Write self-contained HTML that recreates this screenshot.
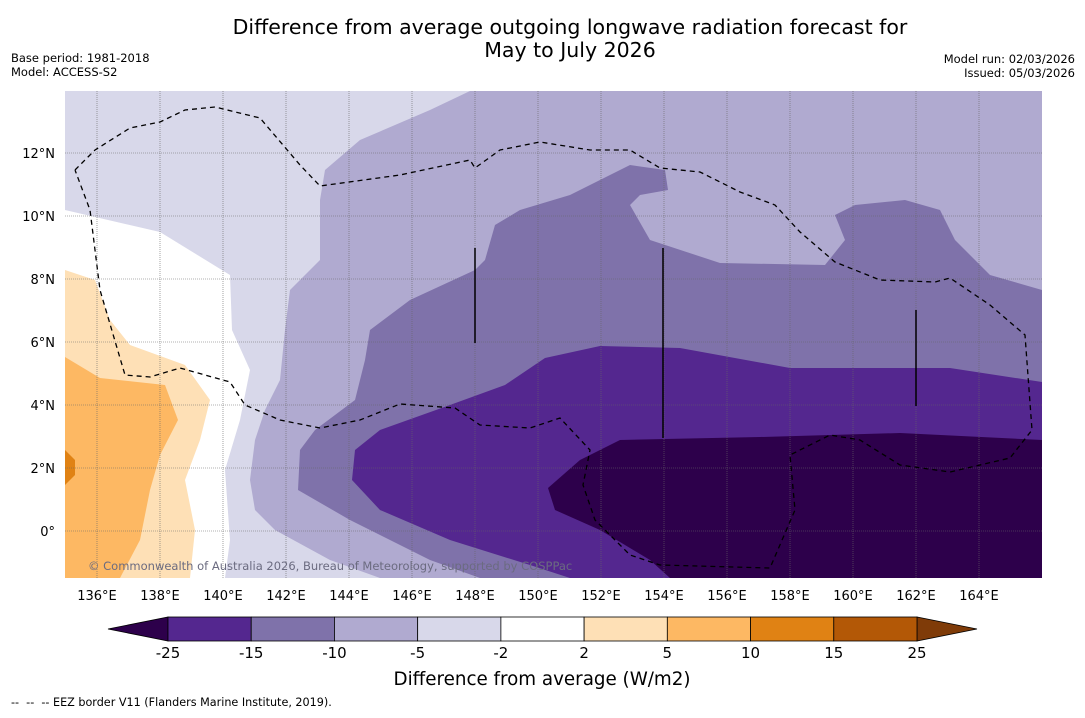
<!DOCTYPE html>
<html><head><meta charset="utf-8"><style>
body{margin:0;background:#fff;font-family:"Liberation Sans","DejaVu Sans",sans-serif;}
svg text{font-family:"DejaVu Sans","Liberation Sans",sans-serif;white-space:pre;}
</style></head><body>
<svg id="c" width="1085" height="713" xmlns="http://www.w3.org/2000/svg">
<text x="570" y="34" font-size="20.5" text-anchor="middle">Difference from average outgoing longwave radiation forecast for</text>
<text x="570" y="57" font-size="20.5" text-anchor="middle">May to July 2026</text>
<text x="11" y="62" font-size="11.5">Base period: 1981-2018</text>
<text x="11" y="76" font-size="11.5">Model: ACCESS-S2</text>
<text x="1075" y="63" font-size="11.5" text-anchor="end">Model run: 02/03/2026</text>
<text x="1075" y="77" font-size="11.5" text-anchor="end">Issued: 05/03/2026</text>
<defs><clipPath id="mc"><rect x="65" y="91" width="977" height="487"/></clipPath></defs>
<g id="map" clip-path="url(#mc)"></g>
<g id="axes"></g>
<g id="cbar"></g>
<text x="542" y="685" font-size="18.3" text-anchor="middle">Difference from average (W/m2)</text>
<text x="11" y="706" font-size="11.2" xml:space="preserve">--  --  -- EEZ border V11 (Flanders Marine Institute, 2019).</text>
</svg>
<script>
const levels=['-25','-15','-10','-5','-2','2','5','10','15','25'];
const binColors=['#54278f','#7f72aa','#b0aad0','#d8d8ea','#ffffff','#fee0b6','#fdb863','#e08214','#b35806'];
const lowColor='#2d004b', highColor='#7f3b08';
const lonTicks=[136,138,140,142,144,146,148,150,152,154,156,158,160,162,164];
const latTicks=[0,2,4,6,8,10,12];
const NS='http://www.w3.org/2000/svg';
const X=lon=>65.5+(lon-135)*31.5, Y=lat=>531-lat*31.5;
function mk(t,a,p){const e=document.createElementNS(NS,t);for(const k in a)e.setAttribute(k,a[k]);p.appendChild(e);return e;}
const map=document.getElementById('map'), axes=document.getElementById('axes'), cb=document.getElementById('cbar');
let r=mk('rect',{x:65,y:91,width:977,height:487,fill:'#d8d8ea'},map);


const shapes=[
['#ffffff','65,210 160,232 230,275 232,330 250,370 240,420 225,470 230,540 225,578 65,578','white-region'],
['#fee0b6','65,270 95,280 110,320 130,345 185,365 210,400 200,440 185,480 195,530 190,578 65,578','light-orange-region'],
['#fdb863','65,357 100,378 165,385 178,420 160,455 150,490 140,540 120,578 65,578','orange-region'],
['#e08214','65,450 75,460 75,475 65,485','dark-orange-region'],
['#b0aad0','470,91 430,110 360,140 325,170 320,200 320,260 290,290 285,330 280,380 265,410 255,440 250,480 255,510 275,530 330,560 380,578 1042,578 1042,91','purple-5-10-region'],
['#7f72aa','1042,290 990,275 955,240 940,210 905,200 855,205 835,215 845,240 825,265 720,263 650,240 630,205 640,195 668,190 665,170 630,165 600,180 570,195 520,210 495,225 485,260 475,270 410,300 370,330 365,360 355,400 315,430 300,450 298,490 350,520 430,560 480,578 1042,578','purple-10-15-region'],
['#54278f','1042,382 950,368 790,368 680,348 600,346 545,358 505,385 450,405 380,430 355,450 352,480 380,510 450,540 530,565 570,578 1042,578','purple-15-25-region'],
['#2d004b','1042,440 900,433 760,437 620,440 580,460 548,488 555,510 600,530 650,560 670,578 1042,578','purple-below-25-region']];
shapes.forEach(s=>{const p=mk('polygon',{points:s[1],fill:s[0]},map);

});
lonTicks.forEach(l=>{const x=X(l);const g=mk('line',{x1:x,x2:x,y1:91,y2:578,stroke:'#666','stroke-width':0.6,'stroke-dasharray':'1,1'},map);


const t=mk('text',{x:x,y:600,'font-size':13,'text-anchor':'middle'},axes);t.textContent=l+'°E';

});
latTicks.forEach(l=>{const y=Y(l);const g=mk('line',{x1:65,x2:1042,y1:y,y2:y,stroke:'#666','stroke-width':0.6,'stroke-dasharray':'1,1'},map);


const t=mk('text',{x:55,y:y+5,'font-size':13,'text-anchor':'end'},axes);t.textContent=l===0?'0°':l+'°N';

});
const eez=['M75,170 L95,150 L130,128 L160,122 L185,110 L215,107 L260,118 L300,165 L320,186 L400,175 L470,160 L475,168 L500,150 L540,142 L590,150 L630,150 L660,168 L700,172 L740,192 L775,205 L800,232 L835,262 L880,280 L935,282 L950,278 L990,305 L1025,335 L1032,430 L1010,458 L950,472 L900,465 L860,440 L830,435 L790,455 L795,510 L770,568 L660,565 L630,555 L595,520 L583,485 L590,450 L560,418 L530,428 L480,425 L455,408 L400,404 L360,420 L320,428 L280,420 L245,405 L230,382 L180,368 L150,377 L125,375 L100,290 L90,210 L75,170'];
eez.forEach(d=>{const p=mk('path',{d:d,fill:'none',stroke:'#000','stroke-width':1.3,'stroke-dasharray':'5,4'},map);

});
[[475,248,343],[663,248,438],[916,310,406]].forEach(v=>{const l=mk('line',{x1:v[0],x2:v[0],y1:v[1],y2:v[2],stroke:'#000','stroke-width':1.5},map);

});
const cp=mk('text',{x:88,y:570,'font-size':11.5,fill:'#6b6b80'},map);cp.textContent='© Commonwealth of Australia 2026, Bureau of Meteorology, supported by COSPPac';


const cx0=168,cx1=917,cy=617,ch=24,bw=(cx1-cx0)/binColors.length;
let tl=mk('polygon',{points:`108,${cy+ch/2} ${cx0},${cy} ${cx0},${cy+ch}`,fill:lowColor,stroke:'#000','stroke-width':0.8},cb);


let tr=mk('polygon',{points:`977,${cy+ch/2} ${cx1},${cy} ${cx1},${cy+ch}`,fill:highColor,stroke:'#000','stroke-width':0.8},cb);


binColors.forEach((c,i)=>{const b=mk('rect',{x:cx0+i*bw,y:cy,width:bw,height:ch,fill:c,stroke:'#000','stroke-width':0.8},cb);

});
levels.forEach((l,i)=>{const t=mk('text',{x:cx0+i*bw,y:658,'font-size':15,'text-anchor':'middle'},cb);t.textContent=l;

});
</script>
</body></html>
